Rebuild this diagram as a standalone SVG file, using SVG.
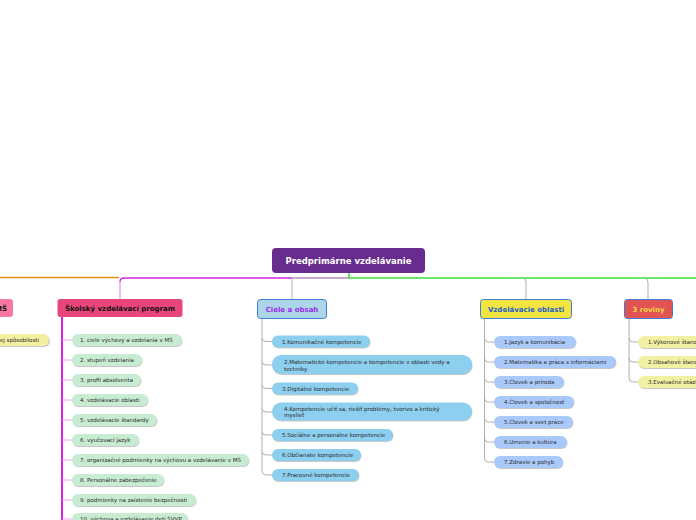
<svg xmlns="http://www.w3.org/2000/svg" width="696" height="520" viewBox="0 0 696 520">
<style>
  .hdr { font-family: "DejaVu Sans", Verdana, sans-serif; font-weight: bold; font-size: 7px; }
  .root { font-family: "DejaVu Sans", Verdana, sans-serif; font-weight: bold; font-size: 8.5px; fill: #ffffff; }
  .t { font-family: "DejaVu Sans", Verdana, sans-serif; font-size: 5.5px; fill: #2a2a2a; }
  .sh { fill: #9a9a9a; opacity: 0.55; }
  .g { fill: #c8ecd2; }
  .b { fill: #8ccfee; }
  .lb { fill: #a9c9fb; }
  .y { fill: #f2f0a2; }
  .cg { fill: none; stroke: #b0b0b0; stroke-width: 1; }
  .cp { fill: none; stroke: #f0a0f0; stroke-width: 1; }
  .hbox { stroke: #3b7fd6; stroke-width: 1; }
</style>
<rect width="696" height="520" fill="#ffffff"/>

<g id="connectors">
  <path d="M0,277.5 H119" stroke="#e8901a" stroke-width="1.5" fill="none"/>
  <path d="M292,278 H124 Q120,278 120,282" stroke="#d32ad8" stroke-width="1.5" fill="none"/>
  <path d="M120,281 V299" stroke="#e590f0" stroke-width="1.2" fill="none"/>
  <path d="M349,278 H292" stroke="#b98cb8" stroke-width="1.5" fill="none"/>
  <path d="M292,278 V299" class="cg"/>
  <path d="M349,273 V278 H696" stroke="#38e038" stroke-width="1.5" fill="none"/>
  <path d="M522,278 Q526,278 526,282 V299" class="cg"/>
  <path d="M644,278 Q648,278 648,282 V299" class="cg"/>

  <!-- Školský -->
  <path d="M62,317 V520" stroke="#d21fe8" stroke-width="2" fill="none"/>
  <path d="M62,340 H72 M62,360 H72 M62,380 H72 M62,400 H72 M62,420 H72 M62,440 H72 M62,460 H72 M62,480 H72 M62,500 H72 M62,519 H72" class="cp"/>

  <!-- Ciele -->
  <path d="M262,319 V471 Q262,475 266,475 H272" class="cg"/>
  <path d="M262,338 Q262,341.5 266,341.5 H272 M262,361.5 Q262,365 266,365 H272 M262,385 Q262,388.5 266,388.5 H272 M262,408.5 Q262,412 266,412 H272 M262,431.5 Q262,435 266,435 H272 M262,451.5 Q262,455 266,455 H272" class="cg"/>

  <!-- Vzdelávacie -->
  <path d="M484.5,319 V458 Q484.5,462 488.5,462 H494" class="cg"/>
  <path d="M484.5,338 Q484.5,342 488.5,342 H494 M484.5,358 Q484.5,362 488.5,362 H494 M484.5,378 Q484.5,382 488.5,382 H494 M484.5,398 Q484.5,402 488.5,402 H494 M484.5,418 Q484.5,422 488.5,422 H494 M484.5,438 Q484.5,442 488.5,442 H494" class="cg"/>

  <!-- 3 roviny -->
  <path d="M629,319 V378 Q629,382 633,382 H638" class="cg"/>
  <path d="M629,338 Q629,342 633,342 H638 M629,358 Q629,362 633,362 H638" class="cg"/>
</g>

<g id="root">
  <rect x="272" y="248" width="153" height="25" rx="4" fill="#682c8e"/>
  <text x="348.5" y="264" text-anchor="middle" class="root">Predprimárne vzdelávanie</text>
</g>

<g id="ms-node">
  <rect x="-20" y="299" width="33" height="18" rx="3" fill="#f6789f"/>
  <text x="7" y="310.5" text-anchor="end" class="hdr" fill="#111">MŠ</text>
</g>
<g id="ms-child">
  <rect x="-40" y="335" width="90" height="12" rx="6" class="sh"/>
  <rect x="-40" y="334" width="89" height="12" rx="6" fill="#f3f0a0"/>
  <text x="39" y="342" text-anchor="end" class="t">školskej spôsobilosti</text>
</g>

<g id="svp">
  <rect x="57.5" y="299" width="125" height="18" rx="3" fill="#e8467a"/>
  <text x="120" y="310.5" text-anchor="middle" class="hdr" fill="#111">Školský vzdelávací program</text>
</g>
<g id="svp-1"><rect x="72.5" y="335" width="110" height="12" rx="6" class="sh"/><rect x="72" y="334" width="110" height="12" rx="6" class="g"/><text x="80" y="342" class="t">1. ciele výchovy a vzdelania v MŠ</text></g>
<g id="svp-2"><rect x="72.5" y="355" width="70" height="12" rx="6" class="sh"/><rect x="72" y="354" width="70" height="12" rx="6" class="g"/><text x="80" y="362" class="t">2. stupeň vzdelania</text></g>
<g id="svp-3"><rect x="72.5" y="375" width="69" height="12" rx="6" class="sh"/><rect x="72" y="374" width="69" height="12" rx="6" class="g"/><text x="80" y="382" class="t">3. profil absolventa</text></g>
<g id="svp-4"><rect x="72.5" y="395" width="76" height="12" rx="6" class="sh"/><rect x="72" y="394" width="76" height="12" rx="6" class="g"/><text x="80" y="402" class="t">4. vzdelávacie oblasti</text></g>
<g id="svp-5"><rect x="72.5" y="415" width="85" height="12" rx="6" class="sh"/><rect x="72" y="414" width="85" height="12" rx="6" class="g"/><text x="80" y="422" class="t">5. vzdelávacie štandardy</text></g>
<g id="svp-6"><rect x="72.5" y="435" width="67" height="12" rx="6" class="sh"/><rect x="72" y="434" width="67" height="12" rx="6" class="g"/><text x="80" y="442" class="t">6. vyučovací jazyk</text></g>
<g id="svp-7"><rect x="72.5" y="455" width="177" height="12" rx="6" class="sh"/><rect x="72" y="454" width="177" height="12" rx="6" class="g"/><text x="80" y="462" class="t">7. organizačné podmienky na výchovu a vzdelávanie v MŠ</text></g>
<g id="svp-8"><rect x="72.5" y="475" width="92" height="12" rx="6" class="sh"/><rect x="72" y="474" width="92" height="12" rx="6" class="g"/><text x="80" y="482" class="t">8. Personálne zabezpečenie</text></g>
<g id="svp-9"><rect x="72.5" y="495" width="124" height="12" rx="6" class="sh"/><rect x="72" y="494" width="124" height="12" rx="6" class="g"/><text x="80" y="502" class="t">9. podmienky na zaistenie bezpečnosti</text></g>
<g id="svp-10"><rect x="72.5" y="514" width="116" height="12" rx="6" class="sh"/><rect x="72" y="513" width="116" height="12" rx="6" class="g"/><text x="80" y="521" class="t">10. výchova a vzdelávanie detí ŠVVP</text></g>

<g id="ciele">
  <rect x="257.5" y="299.5" width="69" height="19" rx="3" fill="#acd5e8" class="hbox"/>
  <text x="292" y="311.5" text-anchor="middle" class="hdr" fill="#9a2cf0">Ciele a obsah</text>
</g>
<g id="c-1"><rect x="272.5" y="336.5" width="98" height="12" rx="6" class="sh"/><rect x="272" y="335.5" width="98" height="12" rx="6" class="b"/><text x="282" y="343.5" class="t">1.Komunikačné kompetencie</text></g>
<g id="c-2"><rect x="272.5" y="356" width="200" height="19" rx="9" class="sh"/><rect x="272" y="355" width="200" height="19" rx="9" class="b"/><text x="284" y="363.5" class="t">2.Matematické kompetencie a kompetencie v oblasti vedy a</text><text x="284" y="370.5" class="t">techniky</text></g>
<g id="c-3"><rect x="272.5" y="383.5" width="86" height="12" rx="6" class="sh"/><rect x="272" y="382.5" width="86" height="12" rx="6" class="b"/><text x="282" y="390.5" class="t">3.Digitálné kompetencie</text></g>
<g id="c-4"><rect x="272.5" y="403.5" width="200" height="18" rx="9" class="sh"/><rect x="272" y="402.5" width="200" height="18" rx="9" class="b"/><text x="284" y="410.5" class="t">4.Kompetencie učiť sa, riešiť problémy, tvorivo a kritický</text><text x="284" y="417" class="t">myslieť</text></g>
<g id="c-5"><rect x="272.5" y="430" width="121" height="12" rx="6" class="sh"/><rect x="272" y="429" width="121" height="12" rx="6" class="b"/><text x="282" y="437" class="t">5.Sociálne a personálne kompetencie</text></g>
<g id="c-6"><rect x="272.5" y="450" width="89" height="12" rx="6" class="sh"/><rect x="272" y="449" width="89" height="12" rx="6" class="b"/><text x="282" y="457" class="t">6.Občianske kompetencie</text></g>
<g id="c-7"><rect x="272.5" y="470" width="87" height="12" rx="6" class="sh"/><rect x="272" y="469" width="87" height="12" rx="6" class="b"/><text x="282" y="477" class="t">7.Pracovné kompetencie</text></g>

<g id="oblasti">
  <rect x="480.5" y="299.5" width="91" height="19" rx="3" fill="#f3e43f" class="hbox"/>
  <text x="526" y="311.5" text-anchor="middle" class="hdr" fill="#1f5fc4">Vzdelávacie oblasti</text>
</g>
<g id="v-1"><rect x="494.5" y="337" width="82" height="12" rx="6" class="sh"/><rect x="494" y="336" width="82" height="12" rx="6" class="lb"/><text x="504" y="344" class="t">1.Jazyk a komunikácia</text></g>
<g id="v-2"><rect x="494.5" y="357" width="122" height="12" rx="6" class="sh"/><rect x="494" y="356" width="122" height="12" rx="6" class="lb"/><text x="504" y="364" class="t">2.Matematika a práca s informáciami</text></g>
<g id="v-3"><rect x="494.5" y="377" width="70" height="12" rx="6" class="sh"/><rect x="494" y="376" width="70" height="12" rx="6" class="lb"/><text x="504" y="384" class="t">3.Človek a príroda</text></g>
<g id="v-4"><rect x="494.5" y="397" width="80" height="12" rx="6" class="sh"/><rect x="494" y="396" width="80" height="12" rx="6" class="lb"/><text x="504" y="404" class="t">4.Človek a spoločnosť</text></g>
<g id="v-5"><rect x="494.5" y="417" width="79" height="12" rx="6" class="sh"/><rect x="494" y="416" width="79" height="12" rx="6" class="lb"/><text x="504" y="424" class="t">5.Človek a svet práce</text></g>
<g id="v-6"><rect x="494.5" y="437" width="73" height="12" rx="6" class="sh"/><rect x="494" y="436" width="73" height="12" rx="6" class="lb"/><text x="504" y="444" class="t">6.Umenie a kultúra</text></g>
<g id="v-7"><rect x="494.5" y="457" width="69" height="12" rx="6" class="sh"/><rect x="494" y="456" width="69" height="12" rx="6" class="lb"/><text x="504" y="464" class="t">7.Zdravie a pohyb</text></g>

<g id="roviny">
  <rect x="624.5" y="299.5" width="48" height="19" rx="3" fill="#e25454" class="hbox"/>
  <text x="648.5" y="311.5" text-anchor="middle" class="hdr" fill="#f7d640">3 roviny</text>
</g>
<g id="r-1"><rect x="638.5" y="337" width="80" height="12" rx="6" class="sh"/><rect x="638" y="336" width="80" height="12" rx="6" class="y"/><text x="648" y="344" class="t">1.Výkonové štandardy</text></g>
<g id="r-2"><rect x="638.5" y="357" width="80" height="12" rx="6" class="sh"/><rect x="638" y="356" width="80" height="12" rx="6" class="y"/><text x="648" y="364" class="t">2.Obsahové štandardy</text></g>
<g id="r-3"><rect x="638.5" y="377" width="80" height="12" rx="6" class="sh"/><rect x="638" y="376" width="80" height="12" rx="6" class="y"/><text x="648" y="384" class="t">3.Evaluačné otázky</text></g>
</svg>
